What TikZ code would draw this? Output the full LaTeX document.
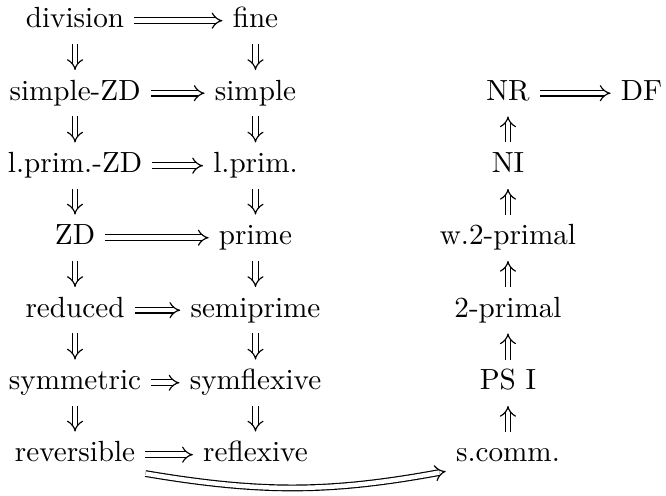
\documentclass[tikz,border=0pt]{standalone}
\usetikzlibrary{cd}

\begin{document}
\begin{tikzpicture}[
    every node/.style={text height=1.6ex, text depth=0.45ex},
    imp/.style={double, double equal sign distance, -tikzcd implies}]

                    \useasboundingbox (0,0) rectangle (8.024,-5.964);

                    % left column
                    \node (div)  at (0.904,-0.249) {division};
                    \node (szd)  at (0.904,-1.123) {simple-ZD};
                    \node (lpzd) at (0.904,-1.996) {l.prim.-ZD};
                    \node (zd)   at (0.904,-2.864) {ZD};
                    \node (red)  at (0.904,-3.737) {reduced};
                    \node (sym)  at (0.904,-4.611) {symmetric};
                    \node (rev)  at (0.904,-5.478) {reversible};

                    % middle column
                    \node (fine)  at (3.078,-0.249) {fine};
                    \node (simp)  at (3.078,-1.123) {simple};
                    \node (lprim) at (3.078,-1.996) {l.prim.};
                    \node (prime) at (3.078,-2.864) {prime};
                    \node (semi)  at (3.078,-3.737) {semiprime};
                    \node (symf)  at (3.078,-4.611) {symflexive};
                    \node (refl)  at (3.078,-5.478) {reflexive};

                    % right column
                    \node (nr)    at (6.120,-1.123) {NR};
                    \node (ni)    at (6.120,-1.996) {NI};
                    \node (wtwop) at (6.120,-2.864) {w.2-primal};
                    \node (twop)  at (6.120,-3.737) {2-primal};
                    \node (psi)   at (6.120,-4.611) {PS I};
                    \node (scomm) at (6.120,-5.478) {s.comm.};
                    \node (df)    at (7.729,-1.123) {DF};

                    \foreach \a/\b in {div/fine, szd/simp, lpzd/lprim, zd/prime,
                                       red/semi, sym/symf, rev/refl, nr/df}
                    \draw[imp] (\a) -- (\b);

                    \foreach \a/\b in {div/szd, szd/lpzd, lpzd/zd, zd/red, red/sym, sym/rev,
                                       fine/simp, simp/lprim, lprim/prime, prime/semi, semi/symf, symf/refl,
                                       scomm/psi, psi/twop, twop/wtwop, wtwop/ni, ni/nr}
                    \draw[imp] (\a) -- (\b);

                    \draw[imp] (rev.-15) to[bend right=10] (scomm.195);
                \end{tikzpicture}
\end{document}
